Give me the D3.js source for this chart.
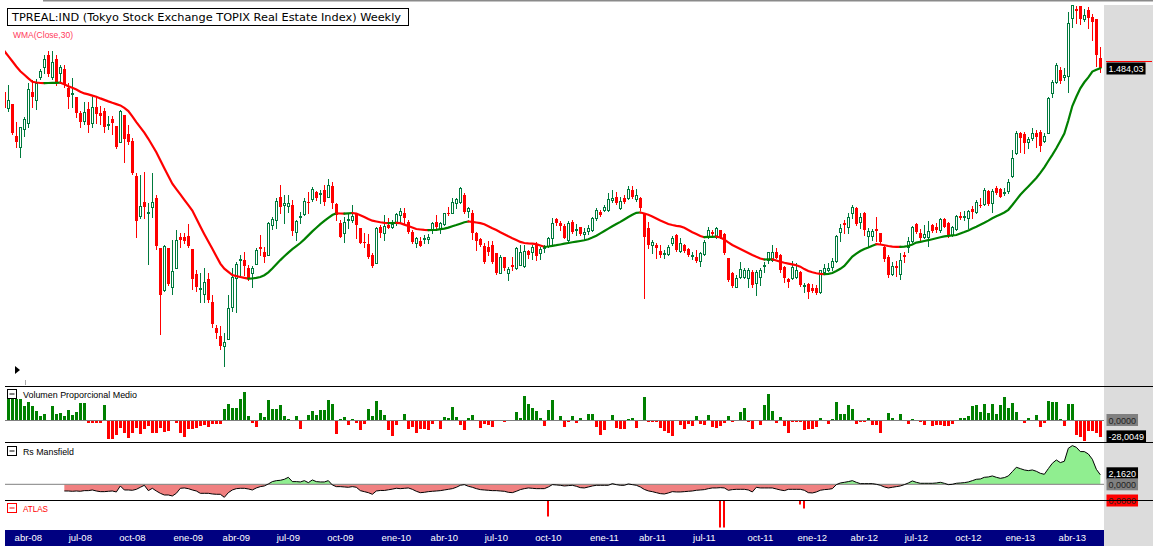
<!DOCTYPE html>
<html>
<head>
<meta charset="utf-8">
<script src="https://cdn.jsdelivr.net/npm/d3@7/dist/d3.min.js"></script>
<style>
html, body { margin: 0; padding: 0; background: #fff; overflow: hidden; }
svg { display: block; font-family: "Liberation Sans", Arial, sans-serif; }
</style>
</head>
<body>
<svg id="chart" width="1153" height="546"></svg>
<script>
// weekly bars, first one dated 22-feb-2008
var firstWeek = "2008-02-22";

var opens = [1424,1384,1393,1313,1286,1331,1346,1425,1403,1462,
1486,1517,1462,1506,1472,1482,1433,1420,1411,1372,
1352,1381,1346,1387,1372,1377,1341,1357,1339,1300,
1367,1318,1302,1214,1114,1148,1122,1136,1158,1033,
929,1033,937,985,1061,1061,1064,1032,969,932,
919,957,898,833,814,790,806,887,958,1004,
1004,985,971,993,1036,1025,1017,1092,1104,1161,
1142,1139,1142,1075,1112,1118,1149,1156,1175,1169,
1179,1162,1190,1143,1097,1071,1104,1104,1118,1083,
1050,1044,1017,997,1087,1071,1092,1087,1096,1117,
1121,1100,1075,1047,1052,1056,1056,1079,1100,1081,
1093,1122,1122,1146,1150,1167,1127,1122,1071,1056,
1039,1036,1042,1021,971,1011,972,992,983,992,
989,1027,1025,1042,1021,1033,1039,1058,1106,1096,
1090,1054,1100,1079,1087,1068,1077,1079,1108,1125,
1129,1129,1155,1162,1133,1160,1158,1179,1157,1158,
1121,1083,1042,1042,1027,1019,1018,1046,1067,1027,
1042,1032,1014,1012,1002,1018,1062,1075,1062,1079,
1068,1008,971,937,962,962,958,975,946,962,
990,1004,1004,1025,1017,987,956,958,962,975,
940,943,933,933,923,975,979,987,1002,1075,
1097,1087,1121,1133,1100,1122,1064,1064,1081,1071,
1037,1012,969,989,969,1017,1036,1052,1094,1071,
1062,1061,1092,1086,1079,1106,1097,1067,1081,1114,
1112,1108,1131,1125,1142,1144,1177,1146,1183,1181,
1172,1177,1214,1271,1322,1318,1300,1308,1322,1325,
1302,1322,1421,1450,1479,1461,1464,1608,1631,1639,
1606,1629,1611,1606,1508];

var highs = [1431,1441,1394,1350,1337,1362,1446,1454,1456,1482,
1517,1527,1527,1517,1491,1491,1447,1458,1411,1377,
1400,1400,1411,1414,1389,1385,1364,1364,1339,1379,
1367,1342,1308,1221,1217,1223,1147,1221,1167,1033,
1042,1035,1054,1079,1071,1071,1094,1032,979,971,
985,971,917,842,839,821,917,985,1000,1017,
1025,992,989,1033,1067,1036,1100,1112,1158,1192,
1167,1167,1154,1104,1125,1158,1175,1187,1177,1179,
1192,1206,1198,1146,1104,1112,1121,1142,1121,1083,
1071,1069,1021,1087,1092,1117,1108,1104,1121,1135,
1135,1104,1079,1062,1062,1067,1068,1100,1117,1100,
1122,1137,1158,1158,1187,1171,1137,1129,1075,1058,
1046,1052,1052,1021,1017,1012,987,1011,1037,1042,
1042,1029,1042,1050,1036,1042,1062,1108,1108,1102,
1093,1102,1104,1093,1087,1083,1092,1112,1133,1129,
1142,1171,1179,1175,1162,1167,1189,1189,1182,1162,
1121,1100,1054,1046,1042,1029,1042,1065,1068,1058,
1043,1035,1025,1029,1025,1054,1087,1079,1087,1079,
1071,1010,975,966,1000,985,983,979,979,983,
998,1025,1042,1033,1019,990,958,1002,996,977,
946,946,943,942,979,993,996,1008,1067,1094,
1104,1121,1142,1137,1121,1125,1083,1081,1111,1072,
1039,1017,1000,1002,1021,1025,1061,1089,1097,1081,
1092,1102,1094,1097,1108,1108,1100,1089,1117,1125,
1127,1129,1139,1154,1158,1183,1179,1181,1189,1183,
1183,1206,1279,1327,1325,1325,1312,1333,1329,1329,
1321,1411,1454,1497,1487,1483,1625,1642,1639,1639,
1631,1636,1619,1606,1537];

var lows = [1379,1377,1319,1286,1262,1314,1336,1387,1381,1456,
1472,1464,1456,1442,1446,1437,1385,1387,1361,1337,
1344,1325,1336,1346,1343,1325,1331,1319,1283,1300,
1250,1294,1219,1061,1108,1108,993,1112,1032,818,
927,941,919,985,1036,1047,1036,932,927,900,
900,900,836,810,782,740,806,877,873,967,
967,954,936,993,1017,1000,1017,1081,1083,1121,
1096,1125,1067,1054,1096,1117,1121,1152,1154,1146,
1142,1161,1133,1104,1061,1050,1083,1100,1058,1046,
1036,1008,987,997,1062,1054,1083,1083,1092,1096,
1096,1071,1046,1037,1040,1047,1047,1071,1085,1071,
1092,1117,1121,1133,1147,1122,1112,1056,1029,1039,
997,1017,997,969,971,979,954,979,981,992,
987,1008,1006,1004,1006,1025,1037,1044,1092,1079,
1058,1052,1071,1067,1067,1054,1068,1077,1104,1115,
1127,1127,1150,1143,1131,1147,1157,1158,1152,1129,
908,1035,1021,1010,1012,1008,1017,1042,1027,1025,
1023,1015,1007,1000,990,1017,1058,1062,1060,1058,
1018,951,937,937,960,958,937,937,917,942,
975,996,1002,1008,975,950,937,957,958,940,
923,908,923,918,921,968,977,979,1000,1052,
1071,1071,1108,1092,1083,1067,1037,1054,1052,1047,
1002,962,967,964,956,1000,1025,1050,1072,1054,
1058,1039,1075,1075,1075,1086,1061,1064,1079,1106,
1104,1083,1108,1122,1137,1142,1142,1125,1169,1161,
1167,1172,1212,1269,1275,1272,1283,1304,1287,1277,
1300,1322,1412,1447,1446,1454,1425,1587,1596,1594,
1602,1583,1554,1489,1475];

var closes = [1384,1403,1321,1298,1336,1356,1431,1412,1446,1476,
1506,1469,1498,1447,1486,1442,1412,1422,1371,1350,
1375,1342,1386,1369,1364,1337,1344,1347,1286,1377,
1307,1300,1221,1102,1139,1137,1125,1148,1040,917,
1040,943,977,1054,1054,1052,1040,957,937,935,
948,904,843,822,790,798,883,961,994,1006,
989,956,983,1029,1032,1012,1097,1106,1152,1137,
1147,1146,1077,1102,1114,1152,1146,1182,1158,1171,
1150,1192,1146,1117,1062,1100,1106,1114,1092,1047,
1046,1011,989,1083,1071,1089,1083,1093,1118,1127,
1110,1075,1050,1058,1040,1058,1062,1096,1087,1097,
1121,1119,1150,1156,1183,1125,1133,1071,1052,1042,
1000,1025,1000,971,1011,983,982,987,1033,1025,
1027,1017,1036,1014,1031,1039,1058,1096,1096,1090,
1060,1096,1075,1082,1068,1075,1085,1108,1129,1117,
1137,1157,1158,1146,1152,1150,1182,1162,1167,1133,
1062,1042,1050,1033,1017,1021,1037,1060,1029,1046,
1027,1017,1017,1002,1021,1050,1079,1068,1083,1060,
1021,954,940,960,982,979,979,942,975,979,
992,1023,1023,1010,979,958,950,987,979,942,
942,925,927,921,979,983,985,1002,1064,1085,
1092,1112,1136,1094,1111,1079,1077,1077,1077,1050,
1006,967,989,985,1004,1012,1052,1086,1075,1058,
1069,1077,1077,1079,1106,1087,1064,1086,1114,1108,
1114,1127,1125,1150,1139,1179,1144,1177,1171,1162,
1174,1200,1258,1321,1308,1297,1306,1321,1311,1289,
1314,1408,1450,1492,1452,1467,1597,1642,1627,1606,
1617,1608,1600,1517,1484.03];

// WMA(Close,30) as plotted (it already runs from before the first bar shown)
var wma30 = [1526.5,1513.5,1500.8,1487.8,1476,1467,1458,1449.5,1447.8,1446.5,
1446.3,1446.5,1446.8,1447,1447.3,1443.5,1438.5,1434.5,1430.3,1424.5,
1420.5,1418,1415,1412,1408,1404.3,1400.5,1397,1393.8,1390.5,
1384.3,1376.3,1363,1348.8,1335.5,1322.3,1307,1290.3,1273.3,1253.3,
1233.3,1213.8,1194.8,1181.3,1168,1154.5,1141.3,1127.5,1107.5,1087.5,
1068.5,1050.3,1032,1013.5,995,982.5,974.3,966.3,963.8,961.5,
959.3,957.3,957.8,959.5,961.5,966,973.3,982.8,993.5,1003.8,
1013.3,1022.5,1031.3,1038.8,1046.5,1055.5,1065.5,1075.5,1084.5,1093.5,
1101.8,1109.5,1116.5,1120.8,1120.3,1120,1120.8,1121.5,1120,1116,
1111.5,1106.5,1102.3,1100.3,1098.3,1097,1096.3,1096.5,1097,1096,
1092.5,1089,1085.3,1081.5,1080.3,1079.3,1078.8,1079,1079.5,1081,
1082.5,1085,1088.5,1091.5,1094.8,1098.3,1100.3,1099.5,1097.8,1096.3,
1093.3,1088.5,1083.5,1078.8,1073.3,1068.5,1063.3,1058.5,1054,1049.3,
1046.5,1045.5,1044.8,1043.5,1040.3,1037,1037.8,1039.5,1041,1042.8,
1044.8,1046.5,1048.3,1049.8,1051.5,1053.3,1056,1060,1064.5,1070.5,
1076.5,1082.5,1088.3,1093.8,1099.3,1105.3,1111.5,1117,1122,1122.8,
1120.3,1117,1112.8,1107.8,1102.8,1098.5,1094,1091.5,1089.5,1088,
1084.5,1079,1073.5,1069,1064,1061,1061.8,1062,1062.3,1060.3,
1055,1048,1041.5,1036.5,1031.5,1026.5,1021.5,1016.5,1012,1007.8,
1005.3,1005.5,1005.8,1002.8,999.5,997,995,993,991,987.3,
981.3,976.5,973.3,970.8,969.5,968.8,969.3,971.5,976.5,982,
989.3,1001,1012.5,1020,1026.5,1031.5,1035.5,1039.8,1043.5,1042.8,
1040.8,1039,1037.5,1037,1036.8,1037.5,1039,1043,1047.5,1049.5,
1051.5,1053.5,1055.8,1058.3,1061,1063,1064.3,1065.5,1066.5,1070.3,
1074,1078,1082.5,1087,1092,1097,1102.5,1108.5,1113.3,1118,
1122.8,1129.5,1141.5,1154.5,1167,1177.5,1187.8,1198.3,1209,1222,
1235.8,1251.5,1267,1283.5,1301.5,1320.3,1352.8,1389,1412,1433.3,
1448.3,1460.5,1475,1479.5,1483.5];

// Volumen Proporcional Medio
var volProp = [0,35.9,35.9,35.9,35.9,23.9,30.8,23.9,16,6.8,
9.7,0,23.9,10.8,12.5,6.8,17.1,9.1,13.7,28.5,
28.5,-3.4,-2.9,-2.9,-2.9,25.7,-30.2,-30.2,-24.5,-11.4,
-20,-28.5,-20,-11.4,-22.8,-14.3,-8.6,-21.1,-20,-11.4,
-18.2,-17.1,0,-2.9,-21.1,-26.8,-14.3,-13.1,-11.4,-8.6,
-7.4,-9.7,-5.7,-4.6,-5.7,18.2,27.4,21.1,21.1,35.3,
47.9,6.8,-2.9,-9.7,11.4,5.7,34.2,18.8,18.8,25.7,
6.8,1.1,0,6.8,-14.3,0,9.1,15.4,9.1,17.1,
17.1,34.2,27.4,-22.8,1.1,4.6,-7.4,2.3,-2.9,-16,
-4.6,18.8,7.4,33.1,16.5,8.6,-15,-26,-6.3,0,
10.3,-13.1,-9.7,-21.1,-14.3,-14.3,-15.4,-4.6,0,-13.1,
5.7,2.9,22.8,5.7,-6.8,-16,3.4,8.6,0,-11.4,
-4.6,-6.8,-9.7,0,0,-1.7,0,0,14.3,2.9,
41,27.4,21.1,15.4,4,-8.6,17.7,34.8,0,6.8,
-9.7,-1.7,7.4,-4,3.4,0,10.3,10.3,-9.7,-23.9,
-16,0,8.6,-11.4,-13.1,-13.1,2.3,3.4,-11.4,0,
38.5,-2.3,-2.3,-1.1,-12.5,-16.5,-21.1,-26.2,0,-6.3,
-13.7,-5.7,-9.1,7.4,-5.7,-6.8,9.1,-10.8,-12.5,-9.1,
-3.4,7.4,-2.3,0,14.3,21.1,-2.3,-13.7,0,-6.8,
26.2,45,14.8,-3.4,5.7,-8,-21.1,-2.3,-1.1,-2.3,
-15.4,-13.7,-13.7,-10.8,2.9,0,-5.7,2.3,31.4,10.8,
10.8,26.2,19.4,-5.7,-2.3,-2.3,2.9,-6.8,-6.8,-21.1,
0,12.5,2.9,0,10.8,0,-5.4,2.3,0,-2.3,
-6.3,0,-8,-6.8,-6.8,-9.1,-8,-5.7,0,4,
4,6.8,23.4,25.1,13.1,27.9,12,27.9,10.8,26.2,
39.9,20.5,29.6,13.7,0,-4,3.4,0,9.1,-10.8,
-3.4,33.1,31.4,30.2,2.3,-8,27.9,27.4,-23.4,-27.9,
-33.6,-16.5,-16.5,-20.5,-28.0049];

// Rs Mansfield (no value for the first 15 weeks)
var rsMansfield = [null,null,null,null,null,null,null,null,null,null,
null,null,null,null,null,-1.52,-1.52,-1.59,-1.52,-1.59,
-1.44,-1.44,-1.29,-1.52,-1.67,-1.67,-1.59,-1.52,-1.74,-0.38,
-1.29,-1.29,-1.36,-1.14,-0.68,-0.23,-1.44,-0.91,-1.52,-2.05,
-2.43,-2.43,-2.65,-2.05,-0.91,-0.83,-0.99,-1.29,-1.52,-2.05,
-2.05,-2.05,-2.2,-2.27,-2.27,-2.96,-1.9,-1.29,-0.99,-0.91,
-0.91,-1.06,-1.29,-0.83,-0.53,-0.38,0.08,0.61,0.83,0.91,
1.14,1.59,0.61,0.61,0.53,0.83,0.38,0.99,0.61,0.53,
0.53,0.83,-0.15,-0.53,-0.53,-0.61,-0.68,-0.53,-0.68,-1.44,
-1.67,-1.9,-2.27,-1.52,-1.4,-1.4,-1.25,-1.1,-0.9,-0.99,
-0.91,-0.83,-1.14,-1.59,-1.9,-1.82,-1.67,-1.59,-1.52,-1.44,
-1.29,-1.14,-0.99,-0.68,-0.23,-0.08,-0.45,-0.68,-0.99,-1.21,
-1.29,-1.36,-1.44,-1.44,-1.52,-1.59,-1.82,-1.9,-1.59,-1.21,
-0.99,-0.83,-0.91,-0.99,-0.99,-0.99,-0.61,-0.08,-0.15,-0.23,
-0.38,-0.3,-0.23,-0.45,-0.76,-0.83,-0.61,-0.38,-0.23,-0.23,
-0.23,-0.23,0.15,-0.08,-0.23,-0.23,0.08,-0.08,-0.23,-0.61,
-1.17,-1.5,-1.67,-1.9,-2.12,-2.2,-1.97,-1.67,-1.74,-1.74,
-1.67,-1.59,-1.52,-1.36,-1.29,-1.21,-0.99,-0.83,-0.83,-0.76,
-0.83,-1.36,-1.21,-1.14,-1.14,-1.14,-1.29,-1.74,-0.68,-0.83,
-0.83,-0.83,-0.83,-1.06,-1.29,-1.44,-1.14,-1.14,-1.14,-1.14,
-1.36,-1.9,-1.97,-1.74,-1.36,-1.21,-1.14,-0.99,-0.08,0.3,
0.45,0.61,0.83,0.45,0.15,0.15,0.15,0.15,0,-0.23,
-0.61,-0.83,-0.68,-0.53,-0.38,-0.08,0.3,0.76,0.45,0.23,
0.23,0.23,0.23,0.3,0.45,0.23,-0.08,0,0.23,0.3,
0.38,0.53,0.83,1.14,1.21,1.59,1.67,1.9,1.59,1.36,
1.52,1.9,2.88,3.87,3.56,3.26,3.11,3.26,2.96,2.5,
2.27,3.56,4.78,5.53,4.93,5.23,8.19,8.79,8.41,7.43,
7.43,6.9,5.69,3.41,2.162];

// ATLAS: only a few weeks differ from zero
var atlasDates = ["2010-10-01", "2011-07-29", "2011-08-05", "2011-12-16", "2011-12-23"];
var atlasValues = [-16, -27, -27, -4, -8];

var tickLabels = ["abr-08","jul-08","oct-08","ene-09","abr-09","jul-09","oct-09","ene-10","abr-10","jul-10","oct-10",
  "ene-11","abr-11","jul-11","oct-11","ene-12","abr-12","jul-12","oct-12","ene-13","abr-13"];
var tickDates = ["2008-04-04","2008-07-04","2008-10-03","2009-01-09","2009-04-03","2009-07-03","2009-10-02","2010-01-08",
  "2010-04-02","2010-07-02","2010-10-01","2011-01-07","2011-04-01","2011-07-01","2011-10-07","2012-01-06","2012-04-06",
  "2012-07-06","2012-10-05","2013-01-04","2013-04-05"];

var green = "#007a3d";
var green2 = "#008000";
var red = "#ff0000";

var svg = d3.select("#chart");
var parseDay = d3.timeParse("%Y-%m-%d");
var start = parseDay(firstWeek);
var weeks = d3.range(closes.length).map(function(i){ return d3.timeDay.offset(start, 7 * i); });
var idx = d3.range(closes.length);

var x = d3.scaleTime().domain([weeks[0], weeks[weeks.length - 1]]).range([4.33, 1100.33]);
var y = d3.scaleLinear().domain([691.5, 1654]).range([385, 0]);
var yVol = d3.scaleLinear().domain([0, 34.2]).range([420, 400]);
var yRs = d3.scaleLinear().domain([0, 5]).range([484.3, 462.3]);
var yAtlas = d3.scaleLinear().domain([0, -10]).range([500.5, 510.5]);

var es = d3.formatLocale({decimal: ",", thousands: ".", grouping: [3], currency: ["", ""], minus: "-"});
var fmtPrice = es.format(",.2f");
var fmt4 = es.format(".4f");

var defs = svg.append("defs");
function clip(id, x0, y0, w, h) {
    defs.append("clipPath").attr("id", id).append("rect")
        .attr("x", x0).attr("y", y0).attr("width", w).attr("height", h);
}
clip("clipMain", 5, 0, 1098, 385);
clip("clipVol", 5, 387, 1098, 55);
clip("clipAbove", 5, 444, 1098, yRs(0) - 444);
clip("clipBelow", 5, yRs(0), 1098, 499 - yRs(0));

svg.append("rect").attr("width", 1153).attr("height", 546).attr("fill", "#fff");
// top rule and grey price strip on the right
svg.append("rect").attr("x", 43).attr("y", 0).attr("width", 1110).attr("height", 1.5).attr("fill", "#8a8a8a");
svg.append("rect").attr("x", 1104).attr("y", 5).attr("width", 49).attr("height", 541).attr("fill", "#dcdcdc");

var cx = function(i){ return Math.round(x(weeks[i])); };
var isUp = function(i){ return closes[i] >= opens[i]; };

// candles
var gMain = svg.append("g").attr("clip-path", "url(#clipMain)");
gMain.selectAll("line.wick")
    .data(idx)
    .enter()
    .append("line")
    .attr("class", "wick")
    .attr("x1", function(i){ return cx(i) + 0.5; })
    .attr("x2", function(i){ return cx(i) + 0.5; })
    .attr("y1", function(i){ return Math.round(y(highs[i])); })
    .attr("y2", function(i){ return Math.round(y(lows[i])) + 1; })
    .attr("stroke", function(i){ return isUp(i) ? green : red; })
    .attr("stroke-width", 1);

gMain.selectAll("rect.body")
    .data(idx)
    .enter()
    .append("rect")
    .attr("class", "body")
    .each(function(i){
        var top = Math.round(y(Math.max(opens[i], closes[i])));
        var bot = Math.round(y(Math.min(opens[i], closes[i])));
        var r = d3.select(this);
        if (isUp(i)) {
            // hollow up candle
            r.attr("x", cx(i) - 0.5).attr("y", top + 0.5)
             .attr("width", 2).attr("height", Math.max(bot - top, 1))
             .attr("fill", "#fff").attr("stroke", green).attr("stroke-width", 1);
        } else {
            r.attr("x", cx(i) - 1).attr("y", top)
             .attr("width", 3).attr("height", Math.max(bot - top, 1))
             .attr("fill", red);
        }
    });

// WMA: green while rising, red while falling
var runs = [];
for (var i = 1; i < wma30.length; i++) {
    var col = wma30[i] > wma30[i - 1] ? green2 : red;
    if (!runs.length || runs[runs.length - 1].col !== col) runs.push({col: col, pts: [i - 1]});
    runs[runs.length - 1].pts.push(i);
}
var wmaLine = d3.line()
    .x(function(i){ return x(weeks[i]); })
    .y(function(i){ return y(wma30[i]); });
gMain.selectAll("path.wma")
    .data(runs)
    .enter()
    .append("path")
    .attr("class", "wma")
    .attr("d", function(r){ return wmaLine(r.pts); })
    .attr("fill", "none")
    .attr("stroke", function(r){ return r.col; })
    .attr("stroke-width", 2.2)
    .attr("stroke-linecap", "round");

// title
svg.append("rect").attr("x", 7.5).attr("y", 8.5).attr("width", 401).attr("height", 17)
    .attr("fill", "#fff").attr("stroke", "#000");
svg.append("text").attr("x", 12).attr("y", 21)
    .attr("font-family", "DejaVu Sans").attr("font-size", 11)
    .attr("textLength", 389).attr("lengthAdjust", "spacingAndGlyphs")
    .attr("fill", "#000")
    .text("TPREAL:IND (Tokyo Stock Exchange TOPIX Real Estate Index) Weekly");
svg.append("text").attr("x", 13).attr("y", 38)
    .attr("font-size", 9).attr("textLength", 60).attr("lengthAdjust", "spacingAndGlyphs")
    .attr("fill", "#ff3b5c").text("WMA(Close,30)");

// little play marker bottom-left of the price panel
svg.append("path").attr("d", "M15,366 L15,374 L20,370 Z").attr("fill", "#000");
svg.append("line").attr("x1", 25.5).attr("x2", 25.5).attr("y1", 380).attr("y2", 385).attr("stroke", "#aaa");

// volume panel
svg.append("line").attr("x1", 5).attr("x2", 1104).attr("y1", yVol(0) + 0.5).attr("y2", yVol(0) + 0.5)
    .attr("stroke", "#808080");
var gVol = svg.append("g").attr("clip-path", "url(#clipVol)");
gVol.selectAll("rect")
    .data(idx.filter(function(i){ return volProp[i] !== 0; }))
    .enter()
    .append("rect")
    .attr("x", function(i){ return cx(i) - 1; })
    .attr("width", 3)
    .attr("y", function(i){ return volProp[i] > 0 ? Math.round(yVol(volProp[i])) : yVol(0) + 1; })
    .attr("height", function(i){ return Math.max(1, Math.round(Math.abs(yVol(volProp[i]) - yVol(0)))); })
    .attr("fill", function(i){ return volProp[i] > 0 ? green2 : red; });

// Rs Mansfield panel
var rsIdx = idx.filter(function(i){ return rsMansfield[i] != null; });
var rsArea = d3.area()
    .x(function(i){ return x(weeks[i]); })
    .y0(yRs(0))
    .y1(function(i){ return yRs(rsMansfield[i]); });
var rsLine = d3.line()
    .x(function(i){ return x(weeks[i]); })
    .y(function(i){ return yRs(rsMansfield[i]); });
svg.append("path").attr("d", rsArea(rsIdx)).attr("fill", "#f08080").attr("clip-path", "url(#clipBelow)");
svg.append("path").attr("d", rsArea(rsIdx)).attr("fill", "#90ee90").attr("clip-path", "url(#clipAbove)");
svg.append("line").attr("x1", 5).attr("x2", 1104).attr("y1", yRs(0)).attr("y2", yRs(0))
    .attr("stroke", "#808080");
svg.append("path").attr("d", rsLine(rsIdx)).attr("fill", "none").attr("stroke", "#000").attr("stroke-width", 1);

// ATLAS spikes
svg.selectAll("rect.atlas")
    .data(atlasDates)
    .enter()
    .append("rect")
    .attr("class", "atlas")
    .attr("x", function(d){ return Math.round(x(parseDay(d))) - 1; })
    .attr("width", 2)
    .attr("y", yAtlas(0))
    .attr("height", function(d, j){ return yAtlas(atlasValues[j]) - yAtlas(0); })
    .attr("fill", red);

// panel captions with the little collapse box
function caption(top, label, color, len) {
    svg.append("rect").attr("x", 7.5).attr("y", top + 0.5).attr("width", 9).attr("height", 9)
        .attr("fill", "#fff").attr("stroke", color);
    svg.append("line").attr("x1", 9.5).attr("x2", 14.5).attr("y1", top + 5).attr("y2", top + 5)
        .attr("stroke", color);
    svg.append("text").attr("x", 23).attr("y", top + 8.5).attr("font-size", 9.5)
        .attr("textLength", len).attr("lengthAdjust", "spacingAndGlyphs")
        .attr("fill", color).text(label);
}
caption(389, "Volumen Proporcional Medio", "#000", 114);
caption(446, "Rs Mansfield", "#000", 51);
caption(503, "ATLAS", red, 25);

// date band
svg.append("rect").attr("x", 5).attr("y", 530).attr("width", 1099).attr("height", 16).attr("fill", "#000080");
svg.selectAll("text.tick")
    .data(tickLabels)
    .enter()
    .append("text")
    .attr("class", "tick")
    .attr("x", function(d, j){ return x(parseDay(tickDates[j])); })
    .attr("y", 541)
    .attr("text-anchor", "middle")
    .attr("font-size", 9.5)
    .attr("fill", "#fff")
    .text(function(d){ return d; });

// value tags in the right strip
function tag(yc, txt, bg, fg) {
    var g = svg.append("g");
    var t = g.append("text").attr("x", 1108.5).attr("y", yc + 3.5)
        .attr("font-size", 9).attr("fill", fg).text(txt);
    var w = t.node().getComputedTextLength();
    g.insert("rect", "text").attr("x", 1106.5).attr("y", yc - 6)
        .attr("width", w + 4).attr("height", 12).attr("fill", bg);
}
var last = closes.length - 1;
svg.append("line").attr("x1", 1106).attr("x2", 1152).attr("y1", 61.5).attr("y2", 61.5).attr("stroke", red);
tag(y(closes[last]) + 0.5, fmtPrice(closes[last]), "#000", "#fff");
tag(yVol(0), fmt4(0), "#808080", "#222");
tag(yVol(volProp[last]), fmt4(volProp[last]), "#000", "#fff");
tag(Math.min(yRs(rsMansfield[last]), yRs(0) - 11), fmt4(rsMansfield[last]), "#000", "#fff");
tag(yRs(0), fmt4(0), "#808080", "#222");
tag(yAtlas(0), fmt4(0), red, "#222");

// panel separators
[386.5, 442.5, 500.5].forEach(function(v){
    svg.append("line").attr("x1", 5).attr("x2", 1153).attr("y1", v).attr("y2", v)
        .attr("stroke", "#000").attr("stroke-width", 1);
});
</script>
</body>
</html>
